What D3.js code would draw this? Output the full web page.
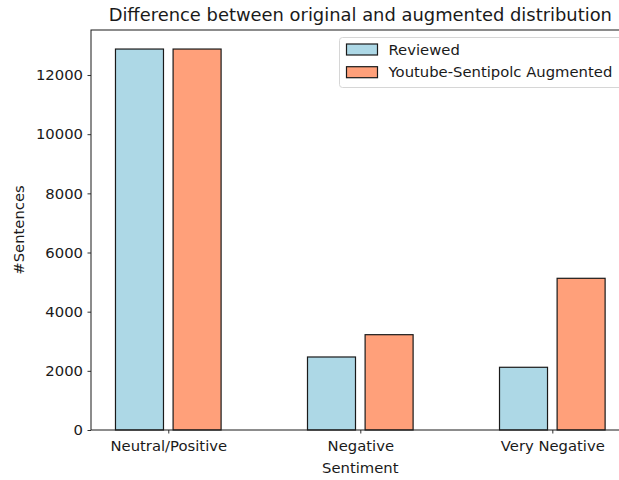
<!DOCTYPE html>
<html>
<head>
<meta charset="utf-8">
<script src="https://cdn.jsdelivr.net/npm/d3@7"></script>
<style>
  html, body { margin: 0; padding: 0; background: #fff; }
  svg { display: block; }
  text { font-family: "DejaVu Sans", sans-serif; fill: #1a1a1a; }
</style>
</head>
<body>
<svg id="chart" width="619" height="480"></svg>
<script>
// Sentence counts per sentiment class
const categories = ["Neutral/Positive", "Negative", "Very Negative"];
const seriesNames = ["Reviewed", "Youtube-Sentipolc Augmented"];
const reviewed = [12878, 2468, 2120];
const augmented = [12878, 3222, 5128];
const yTicks = [0, 2000, 4000, 6000, 8000, 10000, 12000];
const colors = ["#add8e6", "#ffa07a"];

const svg = d3.select("#chart");
const plot = { left: 91, right: 629.6, top: 30, bottom: 430 };
const fs = 14.8;

// Category index axis, with bars of width 0.25 placed at ±0.15
const barWidth = 0.25, offset = 0.15;
const lo = -offset - barWidth / 2, hi = categories.length - 1 + offset + barWidth / 2;
const pad = (hi - lo) * 0.05;
const x = d3.scaleLinear().domain([lo - pad, hi + pad]).range([plot.left, plot.right]);

const yMax = d3.max(reviewed.concat(augmented)) * 1.05;
const y = d3.scaleLinear().domain([0, yMax]).range([plot.bottom, plot.top]);

const series = [reviewed, augmented];
const offsets = [-offset, offset];

// Bars
series.forEach((vals, s) => {
  svg.append("g").selectAll("rect")
    .data(vals)
    .join("rect")
    .attr("x", (d, i) => x(i + offsets[s] - barWidth / 2))
    .attr("width", (d, i) => x(i + offsets[s] + barWidth / 2) - x(i + offsets[s] - barWidth / 2))
    .attr("y", d => y(d))
    .attr("height", d => y(0) - y(d))
    .attr("fill", colors[s])
    .attr("stroke", "#1a1a1a")
    .attr("stroke-width", 1.2);
});

// Axes
const xAxis = d3.axisBottom(x)
  .tickValues(categories.map((c, i) => i))
  .tickFormat(i => categories[i])
  .tickSize(3.5).tickPadding(6.5);
const yAxis = d3.axisLeft(y)
  .tickValues(yTicks)
  .tickFormat(d3.format("d"))
  .tickSize(3.5).tickPadding(4.5);

const gx = svg.append("g").attr("transform", `translate(0,${plot.bottom})`).call(xAxis);
const gy = svg.append("g").attr("transform", `translate(${plot.left},0)`).call(yAxis);
[gx, gy].forEach(g => {
  g.select(".domain").remove();
  g.selectAll(".tick line").attr("stroke", "#1a1a1a").attr("stroke-width", 0.9);
  g.selectAll(".tick text").attr("font-size", fs).attr("font-family", "DejaVu Sans").attr("fill", "#1a1a1a");
});

// Frame around the plot
svg.append("rect")
  .attr("x", plot.left).attr("y", plot.top)
  .attr("width", plot.right - plot.left).attr("height", plot.bottom - plot.top)
  .attr("fill", "none").attr("stroke", "#1a1a1a").attr("stroke-width", 1);

// Titles
const cx = (plot.left + plot.right) / 2;
svg.append("text")
  .attr("x", cx).attr("y", plot.top - 9)
  .attr("text-anchor", "middle").attr("font-size", 17.9)
  .text("Difference between original and augmented distribution");
svg.append("text")
  .attr("x", cx).attr("y", 473)
  .attr("text-anchor", "middle").attr("font-size", fs)
  .text("Sentiment");
svg.append("text")
  .attr("transform", `translate(24,${(plot.top + plot.bottom) / 2}) rotate(-90)`)
  .attr("text-anchor", "middle").attr("font-size", fs)
  .text("#Sentences");

// Legend
const lg = svg.append("g").attr("transform", "translate(339.5,37.5)");
lg.append("rect")
  .attr("width", 283).attr("height", 50).attr("rx", 3)
  .attr("fill", "#fff").attr("fill-opacity", 0.8)
  .attr("stroke", "#d6d6d6").attr("stroke-width", 1);
seriesNames.forEach((name, i) => {
  const row = lg.append("g").attr("transform", `translate(0,${6.5 + i * 22.7})`);
  row.append("rect")
    .attr("x", 7).attr("y", 0).attr("width", 31).attr("height", 11)
    .attr("fill", colors[i]).attr("stroke", "#1a1a1a").attr("stroke-width", 1.2);
  row.append("text")
    .attr("x", 49).attr("y", 5.5).attr("dy", "0.35em")
    .attr("font-size", fs).text(name);
});
</script>
</body>
</html>
